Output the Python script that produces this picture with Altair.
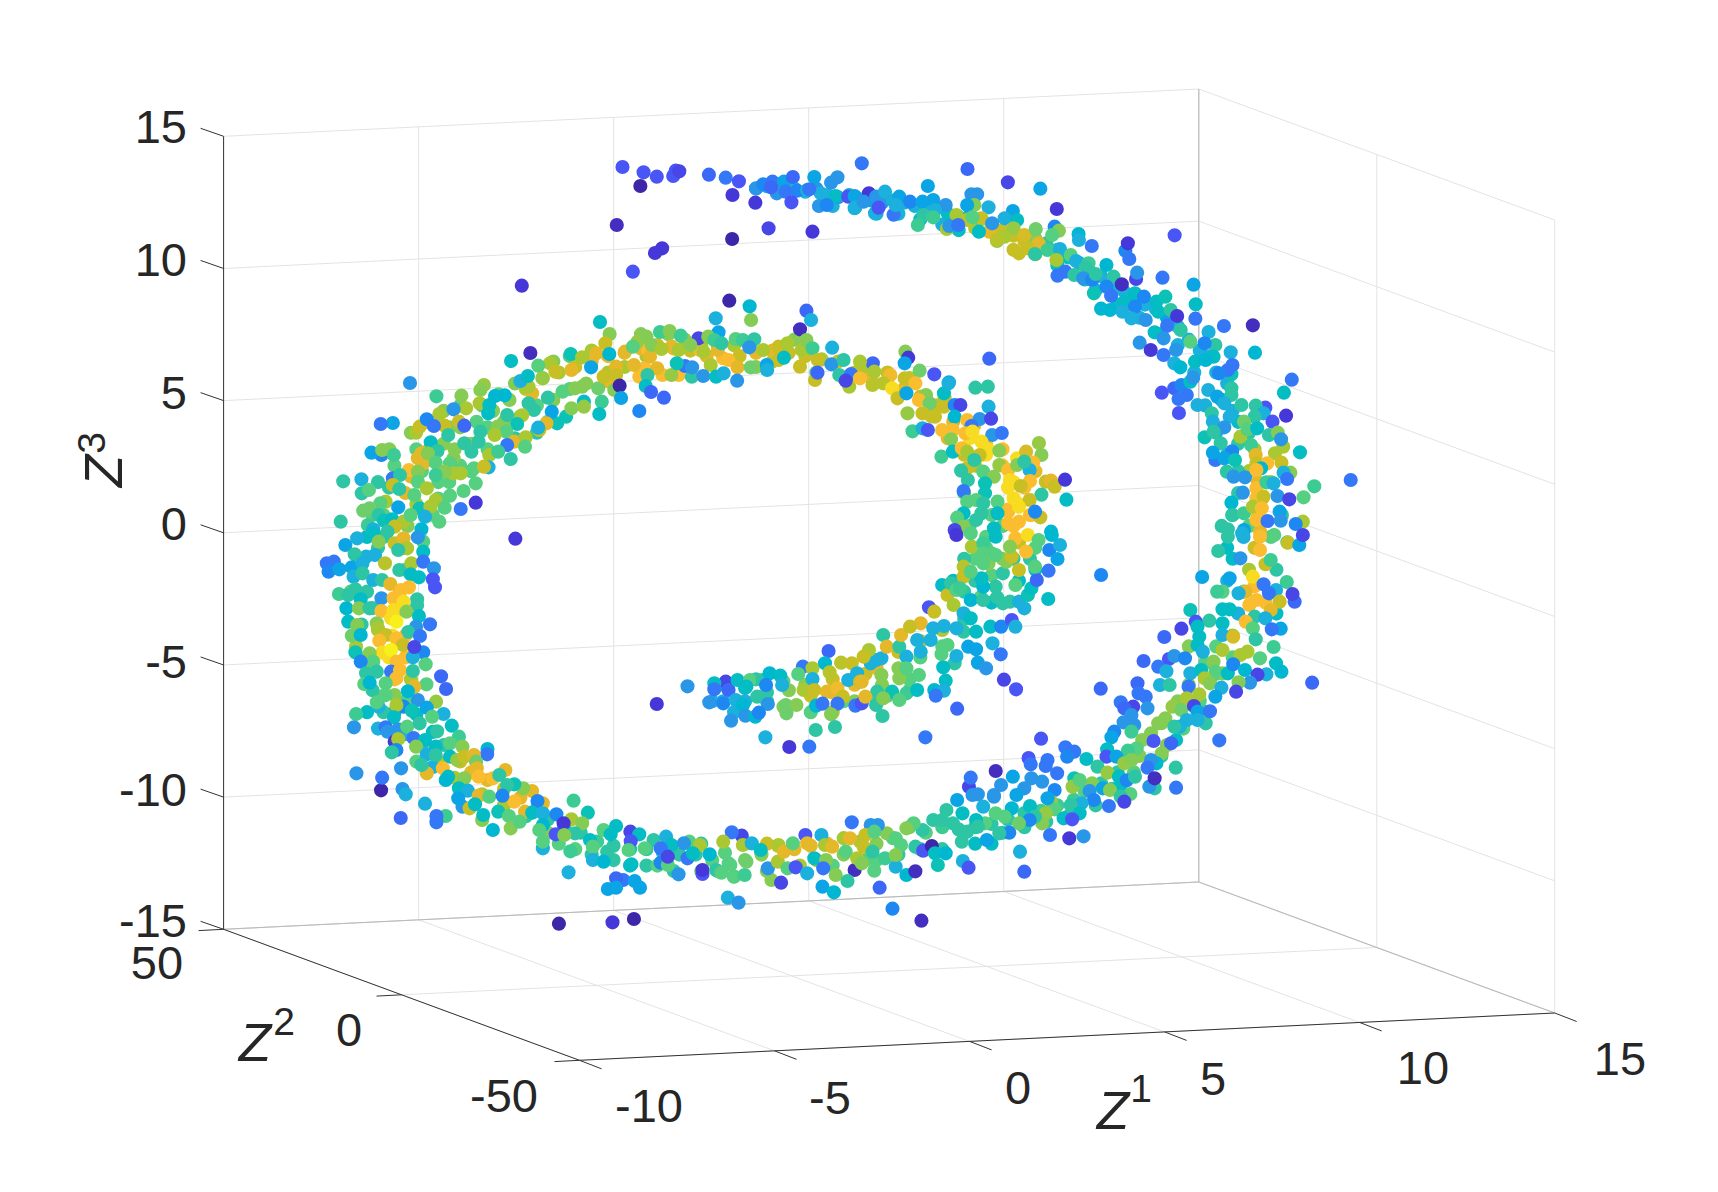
import altair as alt
import pandas as pd

# ---- Tick values and labels ----
z1_ticks = [-10, -5, 0, 5, 10, 15]
z2_ticks = [-50, 0, 50]
z3_ticks = [-15, -10, -5, 0, 5, 10, 15]

# Tick label centres (screen units)
z1_lab = [("-10", 649, 1108), ("-5", 830, 1100), ("0", 1018, 1090), ("5", 1213, 1081), ("10", 1423, 1070), ("15", 1620, 1061)]
z2_lab = [("50", 157, 965), ("0", 349, 1032), ("-50", 504, 1098)]
z3_lab = [("15", 129), ("10", 262), ("5", 395), ("0", 526), ("-5", 664), ("-10", 792), ("-15", 923)]

# ---- Band points read at the scale of the shrunk view (drawn first, underneath) ----
band_extra = [(345,440,7),(360,425,8),(375,395,9),(390,385,9),(385,430,8),(400,455,8),(395,470,8),(410,440,8),(405,375,9),(420,370,8),(430,405,9),(430,430,8),(415,410,9),(445,390,8),(460,385,9),(455,360,8),(470,350,9),(475,380,9),(490,370,8),(490,395,7),(505,365,9),(505,330,9),(520,355,8),(535,350,9),(520,325,8),(540,320,10),(555,340,10),(570,335,10),(590,325,10),(585,305,9),(610,305,9),(625,310,9),(640,315,10),(655,315,11),(670,315,10),(690,335,9),(705,330,10),(725,310,9),(745,340,8),(770,345,10),(790,335,10),(810,340,11),(830,345,11),(850,380,11),(865,400,12),(880,415,11),(890,425,10),(900,405,13),(915,410,13),(935,420,13),(945,430,12),(920,445,14),(935,445,13),(940,470,13),(920,465,13),(915,480,8),(900,490,8),(890,510,8),(905,505,8),(925,510,7),(945,520,6),(890,530,7),(905,550,6),(880,510,7),(870,530,6),
(350,490,7),(335,490,6),(325,520,5),(320,540,8),(340,555,7),(345,575,10),(325,590,10),(340,610,9),(350,635,8),(370,600,13),(370,580,13),(375,620,10),(335,650,6),(360,650,6),(345,665,5),(370,670,5),(385,680,7),(380,695,8),(400,695,10),(415,710,10),(395,700,5),(420,720,7),(440,725,10),(460,735,10),(480,745,7),(500,760,9),(510,770,8),(525,775,8),(540,780,7),(560,785,7),(575,790,6),(590,790,7),(615,795,7),(640,795,8),(655,795,8),(680,770,11),(700,770,11),(745,785,10),(770,780,9),(800,785,8),(840,775,7),(905,770,6),(915,760,7),(935,755,7),(955,750,7),(975,745,7),(1000,735,7),(1015,720,7),(1035,705,8),(1050,695,8),(1065,680,9),(1080,665,8),(1095,640,8),(1110,615,8),(1125,600,8),(1100,650,7),(1085,590,9),(1060,690,7),
(1120,530,5),(1115,480,7),(1125,510,6),(1135,490,5),(1140,480,8),(1160,490,8),(1165,520,7),(1160,440,10),(1140,430,10),(1130,430,7),(1120,415,5),(1110,395,5),(1130,405,7),(1100,370,5),(1090,340,5),(1075,315,5),(1060,305,6),(1040,290,5),(1020,278,6),(1000,265,5),(990,255,6),(965,242,6),(945,232,10),(925,228,11),(910,220,9),(890,208,10),(875,210,6),(860,205,5),(840,200,6),(820,195,5),(800,195,5),(780,190,5),(760,188,5),
(690,620,7),(715,622,8),(735,625,9),(760,620,11),(790,615,11),(770,640,8),(805,625,9),(830,630,8),(800,640,8),(715,645,9),(760,650,10),(650,640,5),(670,650,5),(820,610,9),(840,600,8),(860,590,8)]
band_outer = [(690,172,4),(700,170,5),(712,168,4),(725,172,5),(735,175,5),(745,172,4),(755,178,5),(765,180,4),(775,178,5),(785,182,5),(795,183,4.5),(805,185,4),(815,183,5),(825,185,5),(835,188,5),(845,190,5),(855,190,5),(865,195,6),(875,198,7),(885,197,6),(895,200,8),(905,205,9),(915,210,11),(925,215,11),(935,220,11),(945,218,9),(955,222,7),(965,228,7),(975,235,6.5),(985,240,6),(995,248,5),(1005,252,5),(1015,262,5),(1025,265,5),(1035,272,4.5),(1045,278,5),(1055,282,5),(1065,290,4.5),(1075,298,5),(1085,310,5),(1095,320,5),(1105,325,5),(1110,340,5),(1120,350,5),(1115,365,5.5),(1125,375,5),(1130,385,6),(1140,395,7),(1145,410,10),
(1150,425,11),(1148,440,12),(1152,455,13),(1148,470,13),(1150,485,12),(1145,500,11),(1155,515,11),(1140,520,10),(1145,535,13),(1155,550,13),(1135,540,8),(1165,560,6),(1130,560,5),(1120,500,6),(1125,470,7),(1130,450,7),(1170,470,7),(1175,495,7),
(1125,580,9),(1110,590,8),(1100,605,8),(1085,625,9),(1075,640,9),(1060,660,9),(1050,675,8),(1040,690,9),(1030,690,8),(1020,705,7),(1005,715,7),(990,722,8),(980,730,7.5),(965,735,7.5),(950,740,7.5),(935,742,7),(920,748,7),(905,752,7),(890,755,7),(875,757,7),(860,755,7.5),(845,760,8),(830,755,8.5),(815,765,8),(800,770,9),(785,768,10),(770,765,10),(755,770,12),(740,772,12),(725,775,12),(710,772,11),(695,780,9),(680,785,8.5),(665,788,8),(650,785,8),(635,780,7),(620,780,7),(605,778,6.5),(590,775,7),(575,775,6.5),(560,772,7),(545,768,7.5),(530,760,7),(515,755,6.5),(500,748,7),(490,738,8),(475,728,12),(460,720,11),(445,712,12),(430,705,12),(420,695,11),(405,680,7),(395,668,6),(380,652,6),(370,640,8),(360,620,13),(355,600,14),(358,580,14),(360,560,13),(365,540,12),
(640,770,7),(600,790,8),(670,800,8),(700,795,9),(730,790,10),(760,790,8),(790,785,8),(820,780,7),(860,775,7),(890,770,6),(340,630,7),(350,650,7),(360,670,6),(335,600,8),(330,570,7),(335,540,7),(345,500,7)]
band_inner = [(370,520,8),(368,500,10),(372,480,9),(380,460,10),(370,450,12),(375,435,12),(390,420,8),(405,405,9),(420,390,9),(435,385,8),(450,375,9),(465,365,9),(480,355,10),(495,345,10),(510,340,10),(525,335,11),(540,330,12),(555,325,12),(570,322,12),(585,318,12),(600,315,11),(615,318,12),(630,320,11),(645,325,12),(660,327,13),(675,325,11),(690,322,12),(705,320,12),(720,322,11),(735,325,11),(750,328,10),(765,330,11),(780,340,11),(795,345,12),(810,350,13),(825,355,12),(840,362,11),(855,370,11),(870,385,12),(885,400,14),(900,415,14),(915,425,13),(925,440,14),(930,460,14),(925,480,13),(930,495,11),(915,510,9),(905,525,8),(895,545,8),(880,565,7),(860,575,10),(840,585,11),(820,595,11),(800,610,12),(780,625,12),(760,632,12),(740,635,11),(720,630,9),(700,632,7),(680,628,6),(660,625,6),
(400,440,8),(420,425,8),(445,410,8),(470,400,7),(500,385,8),(440,370,8),(410,390,9),(380,410,8),(355,445,7),(350,470,8),(340,470,8),(830,620,8),(810,635,8),(780,640,9),(740,650,8),(700,640,7),(680,640,5),(660,640,5),(880,540,7),(910,545,7),(930,530,6),(900,500,8),(885,480,8),(905,470,8),(880,450,8),(940,510,7),(945,500,8)]

# ---- Points: (read x, read y, colour level) per reading window ----
w1 = (300, 130)
top_start = [(903,111,2),(962,127,2),(999,140,2),(953,168,0),(1045,138,2),(1052,122,2),(1062,124,1.5),(1145,134,2.5),(1192,143,3),(1229,154,2),(1211,195,1),(1275,218,1),(1312,295,1.5),(1435,305,1),(1210,327,0),(887,285,0.5),(1014,355,1),(994,369,1),(932,425,2),(621,467,1),
(1277,175,4),(1297,163,3.5),(1323,155,3),(1355,155,4.5),(1380,141,2.5),(1440,141,4.5),(1505,142,4),(1487,158,4),(1335,190,4),(1392,182,3.5),(1420,180,5),(1458,190,5),(1500,198,6),(1360,185,3),(1426,178,3),(1319,172,2.5),(1453,228,4),(1475,225,3.5),(1376,217,2),(1535,200,2),(1553,198,4.5),(1555,232,5)]
inner_top = [(830,670,12),(910,665,12),(975,660,13),(1040,650,12),(1200,690,13),(1170,660,12),(1120,660,12.5),(950,740,13),(1015,735,13),(1060,735,13),(965,715,13),(935,705,12),(1000,715,12),(885,710,12),(760,720,12),(865,755,12),(980,680,12),(1340,650,11),(1225,712,12),
(840,576,6),(867,612,9),(855,640,11),(645,669,0.5),(591,693,6),(758,672,6.5),(1116,625,1.5),(1172,607,4.5),(1164,565,5),(1259,529,5.5),(1263,570,9),(1202,512,0),(1418,542,2.5),(1431,570,5),(1400,598,0.5),(1490,653,5),
(1008,606,7.5),(1035,603,9),(1066,617,7.5),(945,635,9.5),(970,620,9),(932,650,8),(985,645,9),(1012,657,10),(1060,660,10),(1093,645,9),(1130,665,10),(1143,620,9),(1160,630,7.5),(1180,640,7),(1220,627,8),(1240,630,7.5),(1272,628,7),(1258,652,4),(1297,660,10),(1365,640,10),(1405,660,10),(1418,630,9),(1435,655,7.5),(1400,710,11),(1442,750,11),(1450,690,11),(1340,690,11),(1262,712,8.5),(1150,705,10),(1040,735,9.5),(1097,740,7),(1129,738,4),(1165,740,6),(1186,730,5),(1224,752,4),(1078,708,3),(1098,712,4),(1055,700,6.5),(973,735,7),(968,768,6),(983,786,2.5),(1019,803,2.5),(950,843,3.5),(1307,705,4.5),(1308,720,5),(1355,683,6),(1488,703,4),(1522,690,7),(1449,728,2.5),(1538,770,10),(1510,735,7),(1543,732,3),(1528,752,1.5),
(790,682,10),(700,700,10),(667,707,8),(680,745,9.5),(715,725,11),(735,785,8),(770,775,9),(790,770,9),(835,775,8.5),(845,815,7.5),(795,815,6),(838,852,6),(880,780,9),(850,740,11),(885,735,11),(866,672,5.5),(815,712,4.5),(895,767,0),(899,804,4.5),(650,790,12),(640,770,10),(694,803,7),(745,860,6.5),(720,880,6.5),(760,835,9),(795,830,9.5),(705,845,4.5),(640,820,7),(655,840,7),(617,753,5),(638,738,6),(515,765,9.5),(505,780,9),(452,797,9),(382,799,7.5),(308,759,4),(465,835,10),(503,820,10),(530,825,6),(546,798,5.5),(573,796,5.5),(527,850,6),(580,855,7),(622,856,10),(608,882,6.5),(690,880,12),(670,900,11),(667,893,5),(430,838,4),(390,852,10),(325,908,10),(335,890,11),(405,887,11),(445,875,11),(355,868,3.5),(375,888,3),(460,887,2.5),(260,879,4.5),(226,882,3),(228,975,3.5),(200,968,4.5),(230,960,9),(250,958,9),(263,975,7.5),(415,915,7),(505,905,7),(500,935,7),(460,940,7),(480,965,7),(553,890,9),(578,905,8),(545,915,10),(600,935,12),(632,922,10),(630,950,8),(580,945,3),(360,960,12),(330,985,12),(340,970,12),(345,1000,12),(305,1020,13),(366,937,6),(385,963,7),(358,970,9),(530,975,10),(555,965,7.5),(590,987,7),(528,1012,5),(430,985,9),(380,998,8),(420,1000,8),(487,1015,8),(450,1030,10),(430,1030,10),(405,1025,9),(380,1035,7.5),(515,1010,11),
(121,1054,7),(172,1048,5),(173,1090,7),(193,1080,8),(260,1045,3),(280,1035,7),(330,1025,9),(260,1065,11),(278,1077,7),(330,1055,8),(355,1075,10),(320,1095,8),(458,1083,8),(492,1060,8),(420,1097,8),(380,1110,10),(405,1133,8),(450,1137,3),(492,1118,1),(240,1115,10),(225,1120,8),(275,1132,4.5),(195,1135,8.5),(177,1142,8.5),(220,1155,7),(114,1175,7),(190,1185,7.5),(235,1172,6.5),(258,1168,6),(335,1135,6.5),(365,1130,10),(390,1175,8),(290,1175,10),(265,1190,11),(310,1155,8),(350,1160,5),(205,1198,5),(340,1198,5.5)]

w2 = (860, 130)
outer_top = [(5,100,3),(301,117,2.5),(414,157,1.5),(505,176,4.5),(551,237,1),(190,168,4.5),(25,190,1),(10,215,4),(45,200,4),(70,185,5),(110,200,4.5),(42,250,5),(52,233,2),(94,254,3),(140,215,3.5),(100,225,5),(175,215,4.5),(205,210,4.5),(240,225,4),(210,240,5),(178,255,7),(205,262,7.5),(162,285,7.5),(312,193,4),(328,193,4),(320,225,9),(300,225,4.5),(360,232,5),(270,255,10),(300,270,10.5),(340,265,11),(315,262,8),(243,297,10),(250,288,4),(275,285,3),(362,305,12),(333,305,6),(428,243,4.5),(405,265,5),(440,270,6),(370,280,4),(545,290,3.5),(430,295,9.5),(405,320,10),(383,330,10.5),(460,315,11.5),(492,297,8.5),(557,302,9),(538,315,8),(500,340,12),(525,360,7.5),(560,357,5),(470,355,11),(445,370,11),(490,372,7),(550,390,10),(590,375,8),(612,312,5.5),(613,330,5),(649,348,3),(743,362,3.5),(750,340,1),(754,387,3),(881,316,2),(575,425,3),(553,437,3),(605,393,5),(640,400,7.5),(600,435,7),(632,412,7),(625,445,4),(650,450,3.5),(660,432,7),(690,405,5.5),(710,440,7),(655,490,6.5),(690,470,3.5),(773,447,1.5),(733,463,0.5),(776,428,4),(847,443,3),(934,464,4.5),(940,523,6),(703,497,3),(740,515,6),(770,490,6),(795,500,3.5),(830,515,6),(855,500,6.5),(675,536,5.5),(700,540,5.5),(735,545,5),(770,530,3.5),(835,545,6),(870,540,7),(939,566,3),(888,558,1),(760,565,5),(800,570,4),(860,587,3),(898,600,7),(825,607,6),(1019,588,3),(1100,586,0.5),(1106,668,5.5),(976,606,5),(925,635,8),(995,645,7),(965,640,3.5),(1038,667,5),(850,625,4),(885,660,4),(783,638,4),(814,660,1),(850,675,3),(880,700,5),(897,712,5.5),(938,695,6),(990,680,6),(968,690,5.5),(1040,733,6.5),(1030,720,3),(1005,730,3.5),(1043,705,3),(1209,749,3),(1187,788,6),(880,775,2.5),(900,765,3.5),(925,755,6),(933,743,4),(845,788,2),(915,795,3),(892,807,3),(945,825,5),(893,849,2),(975,780,5),(1000,800,4.5),(1040,775,7),(1040,795,7),(1020,820,5),(1035,860,5),(985,850,7),(1068,825,7),(1135,833,2),(1108,827,7),(1130,850,5),(1105,860,7),(1193,857,1),(1155,875,2),(988,875,5),(1020,892,4),(965,922,6.5),(990,905,7),(1075,875,8.5),(1065,920,10),(1085,898,8),(1112,895,6),(1145,915,7),(1170,908,9),(1095,945,7.5),(1185,950,10),(1179,928,4),(1010,940,7),(995,990,3),(988,968,4.5),(1042,964,3.5),(1020,985,4.5),(1050,990,6.5),(1162,970,10),(1108,975,12),(1232,967,6),(1180,998,11),(1110,1000,11),(1140,1000,13),(1123,1015,5.5),(1027,1025,7),(1046,1040,4),(1078,1042,4),(1110,1020,13),(1205,1028,9),(1186,1028,5),(1196,1047,3),(1110,1075,13),(1138,1057,7.5),(1158,1060,5),(1272,1069,7.5),(1374,1050,3),(1242,1102,8),(1169,1098,4),(1202,1108,1.5),(1110,1105,13),(1130,1100,11),(1072,1088,4),(1040,1118,5.5),(1042,1155,7),(1075,1150,7.5),(1175,1145,4.5),(1100,1130,10),(1125,1135,13),(1110,1170,13),(1141,1173,3),(1178,1172,4),(1240,1175,10),(1220,1182,3.5),(1075,1200,4.5),(1030,1198,7)]
inner_right = [(127,665,9),(135,683,1),(36,700,2.5),(125,700,4.5),(167,722,8.5),(208,733,2),(249,757,4.5),(362,686,2.5),(0,695,10),(40,725,10),(85,735,12.5),(0,745,13),(35,765,10.5),(65,760,10.5),(90,775,14),(125,745,11),(155,760,13),(105,805,11),(130,790,4.5),(185,795,9),(165,810,13),(195,820,8.5),(237,805,10),(235,830,11),(235,790,6),(323,773,7),(358,770,7),(248,760,5),(265,825,3.5),(281,825,1.5),(360,830,5),(133,850,9.5),(175,850,11),(210,860,11),(265,860,5.5),(300,870,13),(320,885,12),(335,867,4),(367,866,1.5),(312,888,3),(147,904,7.5),(175,895,5),(190,900,2),(230,900,13),(260,900,13),(255,928,9),(295,910,13),(315,905,14),(370,915,4),(397,909,3),(340,935,14),(360,960,14),(390,962,9),(228,980,7.5),(260,965,6),(285,955,13),(300,965,10),(340,975,14),(335,975,11),(440,985,14),(465,965,11.5),(501,939,9.5),(508,975,9),(390,1005,9.5),(300,1015,11),(320,990,7),(345,1025,8),(375,1040,9),(415,1020,13),(440,1005,9),(485,998,13),(475,1020,5),(460,995,7),(420,1050,14),(283,1022,7),(302,1050,7),(350,1060,6.5),(476,1053,13),(520,1055,11),(535,1052,12),(545,1070,11),(574,1049,1),(450,1068,11),(508,1094,7),(578,1109,6),(290,1083,3),(350,1090,6.5),(300,1115,8),(325,1110,8),(345,1120,7),(385,1115,8),(430,1105,14),(475,1110,11),(415,1145,13),(445,1130,14),(480,1155,13),(505,1162,11),(490,1145,3.5),(385,1150,6),(290,1150,6),(272,1163,8),(340,1150,7),(325,1170,7),(445,1175,13),(415,1180,13),(290,1190,9),(375,1195,6),(265,1200,1.5),(535,1205,5.5)]

w3 = (300, 530)
left_bottom = [(603,26,1),(127,45,4.5),(160,25,5),(205,10,6),(245,5,7),(220,35,9),(265,40,11),(290,25,12),(300,55,10),(275,60,7),(345,35,8),(330,22,4),(345,65,6),(185,80,5),(210,75,5),(153,73,7),(238,100,10.5),(312,100,10),(345,95,3),(75,100,3),(95,95,3),(80,125,3.5),(110,118,4.5),(145,112,4.5),(175,100,5),(150,140,5),(175,130,7),(205,150,5),(230,150,7),(278,120,7),(310,133,6),(375,115,4),(333,142,6),(372,148,2),(378,172,2),(253,162,12),(283,180,13),(305,172,13),(109,192,7.5),(155,178,7),(135,195,7),(170,208,6),(228,205,4),(328,208,7),(328,225,7),(262,205,13),(130,235,5.5),(165,235,9),(195,235,7),(228,243,13),(290,215,14),(262,240,14),(298,245,9),(135,275,6),(333,258,6),(364,283,3),(160,285,9),(215,280,9),(218,295,10),(240,315,11),(255,265,14),(270,275,15),(325,290,4),(303,306,7),(336,318,3),(145,317,8.5),(170,315,5.5),(222,332,13),(270,325,13),(288,345,11),(230,368,14),(255,360,15),(155,367,6.5),(195,370,9),(205,395,8),(345,367,3.5),(316,382,5),(320,351,1.5),(270,395,13),(170,395,3.5),(352,403,8),(185,430,7),(215,425,7),(255,425,3),(280,420,13),(316,423,7),(270,445,13),(240,460,8),(180,462,8),(195,458,5.5),(354,463,8),(395,439,2.5),(409,477,2.5),(320,470,12),(302,484,5.5),(265,495,9),(220,530,5),(215,517,8),(240,495,8),(381,515,9.5),(330,510,4),(290,530,3.5),(355,533,4.5),(313,542,6.5),(270,525,10),(402,552,5),(157,552,7.5),(151,592,4),(263,562,6),(240,592,3),(245,605,4),(275,598,4),(300,590,8),(335,580,7),(370,560,8),(425,587,6),(265,635,1),(275,627,10),(318,624,3),(350,630,6),(384,604,7),(445,620,7.5),(420,640,8),(380,650,6),(270,660,3.5),(257,667,7),(325,650,9),(355,673,5),(380,675,7),(420,680,6),(455,650,9),(525,657,5.5),(524,673,3),(440,690,9.5),(460,680,11),(487,675,12),(493,695,8.5),(283,715,4),(400,715,13),(355,730,12),(340,705,7),(158,730,4),(227,781,0),(230,743,3),(287,777,4),(296,793,5),(350,821,5),(282,864,2.5),(408,858,7.5),(382,858,3),(382,877,3),(415,740,6),(408,750,5.5),(460,745,9),(495,715,12),(500,740,13),(575,720,12),(540,745,13),(558,735,7),(650,783,12),(625,775,9),(600,763,6.5),(580,765,7),(445,775,6),(470,782,5),(500,797,12),(530,800,8),(600,815,13),(567,797,3.5),(680,820,12),(665,813,3.5),(455,830,4),(443,805,4.5),(475,835,11),(490,823,6),(510,870,9),(513,855,6),(555,845,6.5),(630,845,12),(650,848,6),(680,850,5),(718,853,3.5),(766,812,7.5),(806,848,6.5),(585,858,8),(590,895,9),(615,875,8),(540,900,5.5),(760,868,10),(680,885,5.5),(716,913,2),(738,880,1),(790,880,9),(770,910,7),(670,900,8),(680,955,5),(680,935,8),(740,915,9),(757,964,7.5),(812,930,6),(850,900,8),(885,888,6),(870,913,6),(925,905,1.5),(950,913,6),(926,934,2),(990,930,7),(860,965,7),(820,950,8),(920,960,8),(965,955,8),(1025,920,5),(1040,945,6),(1010,955,3),(1090,935,8),(1120,945,10),(1075,940,4),(1010,998,3.5),(1030,1005,8),(1030,980,1.5),(1085,985,3),(1100,970,6),(820,990,5),(850,995,5.5),(928,1003,6),(1060,1033,4),(752,1027,5),(905,1050,3),(885,1045,2.5),(862,1077,4.5),(885,1073,4.5),(937,1053,4.5),(952,1073,4.5),(1147,973,5.5),(1127,1032,2),(1127,1020,1),(1190,968,8),(1237,917,1.5),(1209,907,3),(1185,935,10),(1240,945,10),(1265,940,5),(1290,960,6),(1165,1020,7),(1205,1005,8),(1180,1028,8),(1215,1040,8),(1245,1035,7.5),(1250,995,8.5),(1320,1050,9),(1310,1015,4),(1338,995,10),(1347,1058,1.5),(1340,945,10),(1355,965,12),(1365,1015,8),(1388,1012,2),(1380,940,8),(1415,915,2),(1420,940,12),(1460,915,5),(1470,945,10),(1420,1030,5),(1440,985,6),(1473,990,9),(1465,1015,3),(1500,1035,9),(1528,965,8),(1490,950,12),(1540,925,12),(1545,877,3),(1553,1020,0.5),(1533,1053,7),(1463,1070,4.5),(1495,1087,5.5),(1198,1103,5),(1228,1118,4),(725,1181,0),(875,1177,1),(935,1167,0),(1560,985,10)]
tail_left = [(1085,469,4),(999,522,1),(1192,455,1.5),(1160,460,6),(1160,478,3),(1200,480,2.5),(1146,517,4),(1185,520,3.5),(1225,450,6),(1260,450,8),(1295,450,7),(1315,430,5.5),(1345,437,6),(1408,410,3),(1395,432,8),(1435,415,10),(1480,363,2.5),(1470,400,5.5),(1515,398,10.5),(1545,400,11),(1435,447,5),(1483,427,10.5),(1220,510,5),(1250,470,6),(1305,465,3.5),(1350,465,5),(1280,500,7),(1240,525,5.5),(1310,522,4),(1360,525,8.5),(1207,572,4),(1247,557,4),(1275,560,5.5),(1285,548,3.5),(1390,525,9),(1410,480,10),(1440,480,11),(1475,485,12),(1505,475,12.5),(1520,500,11),(1445,527,5.5),(1463,521,3),(1505,521,3),(1555,527,3),(1487,553,9),(1362,550,8.5),(1444,600,7),(1498,591,7),(1303,622,5),(1370,651,1),(1426,650,3),(1535,450,5),(1560,430,5)]

w4 = (860, 530)
tail_right = [(5,520,2),(0,455,11),(30,400,5),(65,315,7),(60,385,5),(45,390,5),(25,360,10),(10,380,11),(75,350,12),(110,350,7),(115,315,12),(170,280,12),(140,290,11),(160,330,5),(130,380,5),(170,365,5),(198,330,5),(205,295,5),(235,288,5),(60,435,9),(5,455,12),(48,485,7),(15,500,12),(45,525,7),(63,558,7),(110,445,9),(130,415,8),(165,435,8),(90,485,6.5),(130,490,7.5),(160,480,6),(110,510,8),(65,505,9),(228,372,8),(245,345,8),(265,400,7),(270,378,5),(233,412,6),(240,452,6),(208,480,5.5),(235,482,5),(212,497,3),(272,536,2.5),(183,622,3),(193,232,2),(208,245,11),(230,165,6),(245,195,11),(255,160,7),(290,110,10.5),(290,140,11),(270,180,8),(310,210,5.5),(262,225,10),(290,250,5),(310,265,6),(345,210,7),(290,305,7),(270,295,5),(325,305,6),(303,350,4.5),(325,358,4.5),(330,398,4.5),(353,415,4),(371,340,5),(365,290,6),(395,290,3.5),(425,270,2),(435,290,5),(394,373,3),(403,449,1.5),(437,478,2),(420,215,7),(400,220,7),(460,235,5),(445,215,5),(527,207,6),(470,195,6.5),(480,175,6),(495,150,2.5),(528,122,3),(435,165,8),(380,170,7),(345,170,5.5),(340,145,6),(310,125,8),(280,175,7.5),(360,100,9),(345,100,8),(400,130,7),(410,95,9),(445,120,11),(490,110,8),(425,80,11),(435,25,13),(470,15,14),(465,65,13),(500,30,8),(530,60,3.5),(553,87,4.5),(560,45,5),(537,15,5.5),(313,50,10),(345,40,7.5),(270,15,1),(310,10,8),(380,20,6),(345,70,8),(380,75,8),(420,50,9)]
outer_bottom = [(675,135,3.5),(958,141,4.5),(1035,145,4.5),(1003,63,7),(1030,20,7),(1070,10,5),(1065,85,4),(1120,60,13),(1120,20,13),(1160,15,8),(1198,38,11),(1230,45,4.5),(1240,15,1.5),(1150,90,7.5),(1100,140,14),(1130,163,3),(1195,156,7.5),(1165,180,5),(1145,190,3),(1217,215,2.5),(1211,192,1.5),(1175,215,11),(1080,185,12),(1110,210,13),(1090,225,13),(1150,240,12),(1015,185,8),(1000,185,7.5),(1060,190,5),(1015,238,6),(1035,238,6),(925,240,6.5),(978,272,7),(940,275,2),(900,296,1.5),(852,321,2.5),(945,290,6),(950,320,6),(945,345,6),(1015,280,6),(1015,315,5),(1105,260,7),(1135,265,5),(1080,275,13),(1100,295,8),(1178,296,4.5),(1153,298,3),(1108,328,7),(1045,320,11.5),(1158,351,7.5),(1015,360,10),(1085,365,10),(1065,375,10),(1120,385,8),(960,365,5),(865,387,2),(880,378,4),(910,385,3.5),(794,393,2.5),(835,410,3),(858,424,5),(925,430,5),(955,420,6),(990,395,9),(1015,430,9),(995,425,8),(1030,430,6),(1045,403,3.5),(1078,420,5.5),(1165,400,6),(1180,425,5.5),(1138,433,5),(1113,434,1.5),(1092,458,4),(1060,457,9),(1053,485,1.5),(965,445,10),(980,460,9),(1012,473,5),(995,500,4.5),(1266,458,2.5),(777,460,2.5),(674,476,2.5),(840,465,5),(867,465,7),(920,470,3),(765,530,1.5),(800,500,3),(780,490,3),(730,517,3),(740,535,2.5),(805,535,4),(950,493,10),(915,505,10),(875,530,9.5),(900,540,8.5),(935,528,1.5),(968,580,7),(945,545,4.5),(945,570,5),(915,570,5),(980,544,3),(895,590,5),(855,565,9),(835,580,9),(815,610,9),(880,590,7),(1006,631,3),(760,555,4),(738,577,4),(768,585,4),(760,605,7.5),(712,605,3.5),(704,622,4.5),(885,630,6),(790,630,9),(822,633,2),(871,640,2.5),(775,655,8),(845,670,9),(750,662,7.5),(507,626,2),(692,658,6),(575,652,3),(600,665,3),(580,680,3.5),(634,687,6),(690,680,2),(718,680,4.5),(740,700,9.5),(760,690,9),(665,710,7),(472,684,2),(478,703,3),(525,690,3),(520,708,3),(552,730,3),(380,723,0.5),(428,740,4.5),(305,770,1.5),(310,743,3),(395,765,4),(480,745,4),(510,755,4),(460,775,4),(545,780,3.5),(438,795,4.5),(375,795,4),(315,795,4),(330,793,4),(693,728,9.5),(830,700,5.5),(815,690,4),(805,713,3),(884,713,7),(825,775,7),(810,770,4),(825,745,0.5),(725,740,6),(730,765,6),(747,751,3.5),(885,773,3),(770,740,7),(650,760,9),(600,745,6.5),(595,770,9.5),(615,750,8),(643,783,4),(680,775,4.5),(700,780,9),(757,792,8),(730,800,7),(740,815,1.5),(697,828,3),(655,810,3.5),(620,820,5),(590,825,7),(535,815,9.5),(545,838,8),(520,850,9.5),(510,880,9),(570,865,6),(615,850,6),(594,868,2),(525,805,4.5),(476,828,6),(490,860,7),(425,835,5.5),(475,870,3.5),(445,880,8.5),(418,908,3.5),(390,910,7),(355,930,4.5),(380,850,8),(405,860,8),(350,880,8),(325,870,6),(345,830,5),(375,800,4),(272,810,4.5),(242,840,7),(287,850,6),(260,880,7),(205,870,7),(230,870,7),(175,900,7),(285,935,7),(300,905,7),(330,890,7),(150,880,8),(130,895,9),(75,910,9),(50,885,4),(30,885,4),(15,915,11),(40,905,8),(10,950,11),(100,925,8),(115,945,8),(155,950,7),(177,962,2),(201,948,0),(210,970,6),(240,970,5.5),(218,1005,6.5),(288,993,5),(304,1013,2),(100,1010,5),(130,1035,5.5),(155,1024,0.5),(40,1022,8),(70,985,7.5),(100,975,9),(35,965,7),(5,1000,9),(55,1073,2.5),(91,1136,3.5),(172,1172,0.5),(448,965,5),(460,1025,2.5),(532,915,3),(586,925,1),(626,919,4)]

level_domain = [0, 1, 2, 3, 4, 5, 6, 7, 8, 9, 10, 11, 12, 13, 14, 15]
level_colors = ["#3e26a8", "#4637d8", "#4a55f5", "#3478f8", "#2a96e8", "#1cb0dc", "#04bcc4", "#2ec5a5",
                "#55cf80", "#85cc55", "#aac832", "#c8bf25", "#e5b82a", "#fbbd30", "#f8dc22", "#f8f01a"]

rows = []
for (x0, y0, sx, sy), lists in (((0, 0, 1568 / 1718, 1568 / 1718), [band_extra, band_outer, band_inner]),
                                ((w1[0], w1[1], 2.8, 3), [top_start, inner_top]),
                                ((w2[0], w2[1], 2.8, 3), [outer_top, inner_right]),
                                ((w3[0], w3[1], 2.8, 3), [left_bottom, tail_left]),
                                ((w4[0], w4[1], 2.8, 3), [tail_right, outer_bottom])):
    for lst in lists:
        for zx, zy, c in lst:
            rows.append({"x": x0 + zx / sx, "y": y0 + zy / sy, "c": c, "i": len(rows)})
points = pd.DataFrame(rows)

# ---- Box projection ----
B = (579.5, 1060.3)          # z1=-10, z2=-50, z3=-15
U1 = (975.2 / 25, -47.3 / 25)
U2 = (-355.9 / 100, -131.0 / 100)
U3 = (0.0, -793.0 / 30)

def P(z1, z2, z3):
    return (B[0] + (z1 + 10) * U1[0] + (z2 + 50) * U2[0],
            B[1] + (z1 + 10) * U1[1] + (z2 + 50) * U2[1] + (z3 + 15) * U3[1])

segs = []
def seg(a, b, kind):
    segs.append({"x": a[0], "y": a[1], "x2": b[0], "y2": b[1], "kind": kind})

# grid
for z in z1_ticks:
    seg(P(z, -50, -15), P(z, 50, -15), "grid")
    seg(P(z, 50, -15), P(z, 50, 15), "grid")
for z in z2_ticks:
    seg(P(-10, z, -15), P(15, z, -15), "grid")
    seg(P(15, z, -15), P(15, z, 15), "grid")
for z in z3_ticks:
    seg(P(-10, 50, z), P(15, 50, z), "grid")
    seg(P(15, 50, z), P(15, -50, z), "grid")
# back box edges
seg(P(-10, 50, -15), P(15, 50, -15), "box")
seg(P(15, 50, -15), P(15, -50, -15), "box")
seg(P(15, 50, -15), P(15, 50, 15), "box")
# axes
seg(P(-10, 50, -15), P(-10, 50, 15), "axis")
seg(P(-10, 50, -15), P(-10, -50, -15), "axis")
seg(P(-10, -50, -15), P(15, -50, -15), "axis")
# ticks
for z in z1_ticks:
    a = P(z, -50, -15); seg(a, (a[0] + 22, a[1] + 8.5), "axis")
for z in z2_ticks:
    a = P(-10, z, -15); seg(a, (a[0] - 25, a[1] + 1.3), "axis")
for z in z3_ticks:
    a = P(-10, 50, z); seg(a, (a[0] - 23, a[1] - 8), "axis")
lines = pd.DataFrame(segs)

X = alt.Scale(domain=[8, 1698], range=[0, 1690])
Y = alt.Scale(domain=[8, 1178], range=[0, 1170])
x = alt.X("x:Q", scale=X, axis=None)
y = alt.Y("y:Q", scale=Y, axis=None)

line_layer = alt.Chart(lines).mark_rule(strokeWidth=1).encode(
    x=x, y=y, x2="x2:Q", y2="y2:Q",
    color=alt.Color("kind:N", legend=None,
                    scale=alt.Scale(domain=["grid", "box", "axis"], range=["#e3e3e3", "#b8b8b8", "#333333"])),
    order=alt.Order("kind:N", sort="descending"),
)

pt_layer = alt.Chart(points).mark_circle(size=200, opacity=1).encode(
    x=x, y=y,
    color=alt.Color("c:Q", legend=None, scale=alt.Scale(domain=level_domain, range=level_colors)),
    order=alt.Order("i:Q"),
)

FONT = "Liberation Sans"
labs = []
for t, lx, ly in z1_lab + z2_lab:
    labs.append({"t": t, "x": lx, "y": ly})
lab_layer = alt.Chart(pd.DataFrame(labs)).mark_text(font=FONT, fontSize=47, color="#262626", align="center", baseline="middle").encode(x=x, y=y, text="t:N")
z3df = pd.DataFrame([{"t": t, "x": 187, "y": ly} for t, ly in z3_lab])
z3_layer = alt.Chart(z3df).mark_text(font=FONT, fontSize=47, color="#262626", align="right", baseline="middle").encode(x=x, y=y, text="t:N")

def txt(t, px, py, size, italic=False, angle=0):
    kw = dict(font=FONT, fontSize=size, color="#262626", align="center", baseline="middle")
    if italic:
        kw["fontStyle"] = "italic"
    if angle:
        kw["angle"] = angle
    return alt.Chart(pd.DataFrame([{"t": t, "x": px, "y": py}])).mark_text(**kw).encode(x=x, y=y, text="t:N")

titles = [
    txt("Z", 1113, 1113, 53, True), txt("1", 1141, 1090, 39),
    txt("Z", 255, 1045, 53, True), txt("2", 284, 1023, 39),
    txt("Z", 106, 471, 53, True, 270), txt("3", 93, 443, 39, False, 270),
]

chart = alt.layer(line_layer, pt_layer, lab_layer, z3_layer, *titles).properties(
    width=1690, height=1170, padding=0, autosize=alt.AutoSizeParams(type="none")
).configure_view(stroke=None)

chart.save("out.html", embed_options={"renderer": "svg", "actions": False})
